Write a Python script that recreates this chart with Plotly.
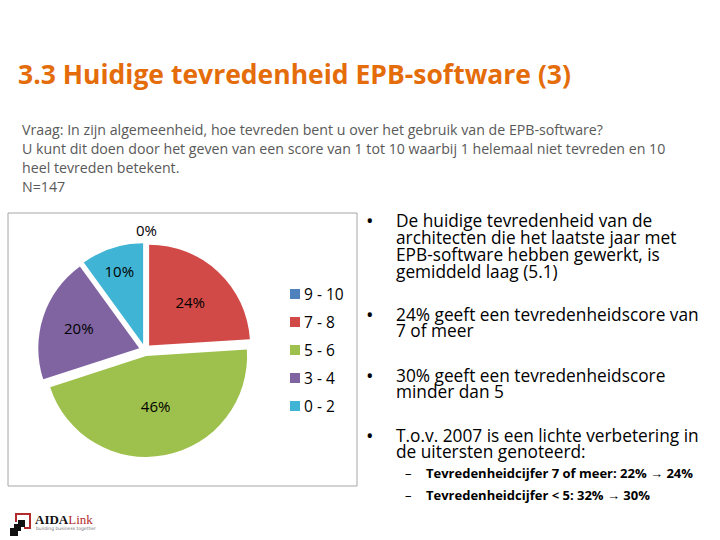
import plotly.graph_objects as go

# ---- data ----
categories = ["9 - 10", "7 - 8", "5 - 6", "3 - 4", "0 - 2"]
values = [0, 24, 46, 20, 10]
colors = ["#4F81BD", "#D24A47", "#9EC14D", "#8064A2", "#3FB4D4"]

title_text = "3.3 Huidige tevredenheid EPB-software (3)"
question_lines = [
    "Vraag: In zijn algemeenheid, hoe tevreden bent u over het gebruik van de EPB-software?",
    "U kunt dit doen door het geven van een score van 1 tot 10 waarbij 1 helemaal niet tevreden en 10",
    "heel tevreden betekent.",
    "N=147",
]
bullets = [
    ["De huidige tevredenheid van de", "architecten die het laatste jaar met",
     "EPB-software hebben gewerkt, is", "gemiddeld laag (5.1)"],
    ["24% geeft een tevredenheidscore van", "7 of meer"],
    ["30% geeft een tevredenheidscore", "minder dan 5"],
    ["T.o.v. 2007 is een lichte verbetering in", "de uitersten genoteerd:"],
]
sub_bullets = [
    "Tevredenheidcijfer 7 of meer: 22% \u2192 24%",
    "Tevredenheidcijfer < 5: 32% \u2192 30%",
]

W, H = 720, 540
FONT = "Open Sans"


def px(x):
    return x / W


def py(y):
    return 1 - y / H


fig = go.Figure()
fig.add_trace(go.Pie(
    labels=categories,
    values=values,
    sort=False,
    direction="clockwise",
    rotation=0,
    pull=[0.06] * len(values),
    marker=dict(colors=colors, line=dict(color="white", width=0)),
    texttemplate="%{value}%",
    textposition="inside",
    insidetextorientation="horizontal",
    textfont=dict(family=FONT, size=15, color="black"),
    showlegend=False,
    domain=dict(x=[px(38), px(252)], y=[py(457), py(243)]),
    hoverinfo="label+percent",
))

ann = []
shapes = []

# title
ann.append(dict(x=px(16), y=py(74), text="<b>" + title_text + "</b>", showarrow=False,
                xanchor="left", yanchor="middle",
                font=dict(family=FONT, size=26.5, color="#E46C0A")))

# question
for i, line in enumerate(question_lines):
    ann.append(dict(x=px(20), y=py(130 + i * 18.7), text=line, showarrow=False,
                    xanchor="left", yanchor="middle",
                    font=dict(family=FONT, size=14.2, color="#595959")))

# chart frame
shapes.append(dict(type="rect", xref="paper", yref="paper",
                   x0=px(8), x1=px(357), y0=py(486), y1=py(213),
                   line=dict(color="#A6A6A6", width=1), layer="below"))

# zero-value label for the hidden slice
ann.append(dict(x=px(146), y=py(230), text=f"{values[0]}%", showarrow=False,
                xanchor="center", yanchor="middle",
                font=dict(family=FONT, size=15, color="black")))

# legend
for i, (c, col) in enumerate(zip(categories, colors)):
    yy = 294 + i * 28
    shapes.append(dict(type="rect", xref="paper", yref="paper",
                       x0=px(290), x1=px(300), y0=py(yy + 5), y1=py(yy - 5),
                       fillcolor=col, line=dict(color=col, width=0)))
    ann.append(dict(x=px(302), y=py(yy), text=c, showarrow=False,
                    xanchor="left", yanchor="middle",
                    font=dict(family=FONT, size=15.5, color="black")))

# bullets
starts = [221, 314, 375, 435]
for start, lines in zip(starts, bullets):
    ann.append(dict(x=px(364), y=py(start), text="\u2022", showarrow=False,
                    xanchor="left", yanchor="middle",
                    font=dict(family=FONT, size=20, color="black")))
    for j, line in enumerate(lines):
        ann.append(dict(x=px(394), y=py(start + j * 16.8), text=line, showarrow=False,
                        xanchor="left", yanchor="middle",
                        font=dict(family=FONT, size=17.3, color="black")))

for k, line in enumerate(sub_bullets):
    yy = 473 + k * 22
    ann.append(dict(x=px(403), y=py(yy), text="\u2013", showarrow=False,
                    xanchor="left", yanchor="middle",
                    font=dict(family=FONT, size=13, color="black")))
    ann.append(dict(x=px(424), y=py(yy), text="<b>" + line + "</b>", showarrow=False,
                    xanchor="left", yanchor="middle",
                    font=dict(family=FONT, size=13, color="black")))

# logo
shapes.append(dict(type="path", xref="paper", yref="paper",
                   path=f"M {px(16)},{py(522)} L {px(16)},{py(514)} L {px(30)},{py(514)} L {px(30)},{py(528)} L {px(24)},{py(528)}",
                   line=dict(color="#B22A2A", width=2)))
for (x0, y0, s) in [(18, 520, 7), (14, 524, 7), (10, 528, 8)]:
    shapes.append(dict(type="rect", xref="paper", yref="paper",
                       x0=px(x0), x1=px(x0 + s), y0=py(y0 + s), y1=py(y0),
                       fillcolor="#111111", line=dict(width=0)))
ann.append(dict(x=px(33), y=py(519), text="<b>AIDA</b><span style='color:#B22A2A'>Link</span>",
                showarrow=False, xanchor="left", yanchor="middle",
                font=dict(family="Liberation Serif", size=13, color="#111111")))
ann.append(dict(x=px(34), y=py(528), text="building business together", showarrow=False,
                xanchor="left", yanchor="middle",
                font=dict(family="DejaVu Sans", size=4.5, color="#777777")))

fig.update_layout(
    width=W, height=H,
    margin=dict(l=0, r=0, t=0, b=0),
    paper_bgcolor="white", plot_bgcolor="white",
    annotations=ann, shapes=shapes,
    showlegend=False,
)

fig.write_html("out.html", config={"displayModeBar": False},
               post_script="document.body.style.margin='0';")
